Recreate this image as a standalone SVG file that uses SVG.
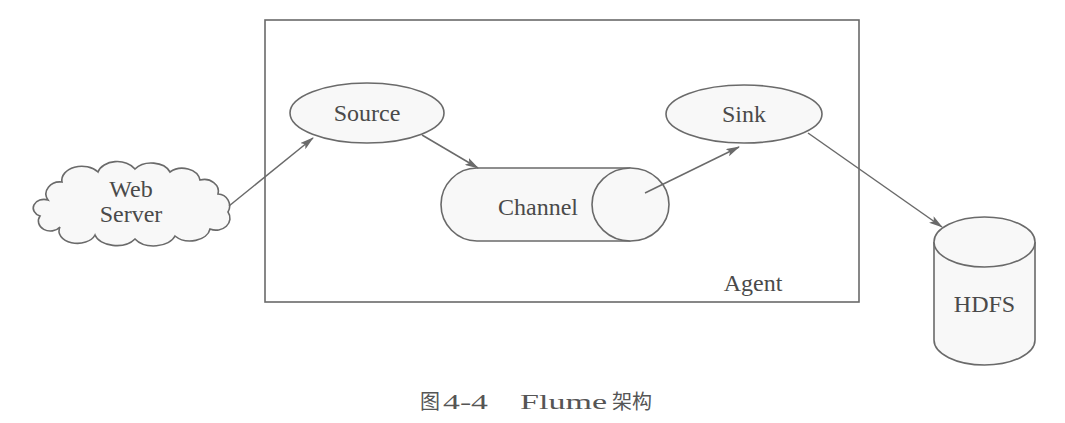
<svg xmlns="http://www.w3.org/2000/svg" width="1065" height="423" viewBox="0 0 1065 423">
<style>
.shape{fill:#f8f8f8;stroke:#6a6a6a;stroke-width:1.6}
.box{fill:none;stroke:#6a6a6a;stroke-width:1.6}
.lbl{font-family:"Liberation Serif","Noto Sans CJK SC",serif;font-size:24px;fill:#4a4a4a;text-anchor:middle}
.cap{font-family:"Liberation Serif","Noto Sans CJK SC",serif;font-size:22px;fill:#555}
.capc{font-family:"Noto Sans CJK SC",sans-serif;font-size:20px;fill:#555}
.edge{fill:none;stroke:#6a6a6a;stroke-width:1.5;marker-end:url(#arr)}
</style>
<defs>
<marker id="arr" viewBox="0 0 14 8" refX="13" refY="4" markerWidth="14" markerHeight="8" markerUnits="userSpaceOnUse" orient="auto">
<path d="M0,0 L14,4 L0,8 L3,4 Z" fill="#6a6a6a"/>
</marker>
</defs>
<rect width="1065" height="423" fill="#ffffff"/>
<g id="agent">
<rect class="box" x="265" y="20" width="594" height="282"/>
<text class="lbl" x="753" y="291">Agent</text>
</g>
<g id="webserver">
<path class="shape" d="M48 200 A14 12 0 0 1 62 182 A20 14 0 0 1 98 172 A20 14 0 0 1 135 169 A20 14 0 0 1 170 172 A18 14 0 0 1 200 180 A14 12 0 0 1 218 194 A12 12 0 0 1 228 212 A14 12 0 0 1 210 229 A20 14 0 0 1 175 236 A22 14 0 0 1 135 239 A22 14 0 0 1 95 235 A18 12 0 0 1 60 227 A12 10 0 0 1 40 216 A10 8 0 0 1 48 200 Z"/>
<text class="lbl" x="131" y="197">Web</text>
<text class="lbl" x="131" y="222">Server</text>
</g>
<g id="source">
<ellipse class="shape" cx="367" cy="113" rx="77" ry="30"/>
<text class="lbl" x="367" y="121">Source</text>
</g>
<g id="channel">
<path class="shape" d="M630.5 168 L477 168 A36 36.5 0 0 0 477 241 L630.5 241"/>
<ellipse class="shape" cx="630.5" cy="204.5" rx="38.5" ry="36.5"/>
<text class="lbl" x="538" y="215">Channel</text>
</g>
<g id="sink">
<ellipse class="shape" cx="744" cy="114" rx="78" ry="29"/>
<text class="lbl" x="744" y="122">Sink</text>
</g>
<g id="hdfs">
<path class="shape" d="M934 242 L934 340 A50.5 25 0 0 0 1035 340 L1035 242"/>
<ellipse class="shape" cx="984.5" cy="242" rx="50.5" ry="25"/>
<text class="lbl" x="984.5" y="312">HDFS</text>
</g>
<g id="connectors">
<path class="edge" d="M229 206 L313 138"/>
<path class="edge" d="M422 135 L478 168"/>
<path class="edge" d="M645 193 L739 147"/>
<path class="edge" d="M808 133 L942 227"/>
</g>
<g id="caption">
<text class="capc" x="420" y="409">图</text>
<text class="cap" x="443" y="409" textLength="45" lengthAdjust="spacingAndGlyphs">4-4</text>
<text class="cap" x="520" y="409" textLength="87" lengthAdjust="spacingAndGlyphs">Flume</text>
<text class="capc" x="612" y="409">架构</text>
</g>
</svg>
